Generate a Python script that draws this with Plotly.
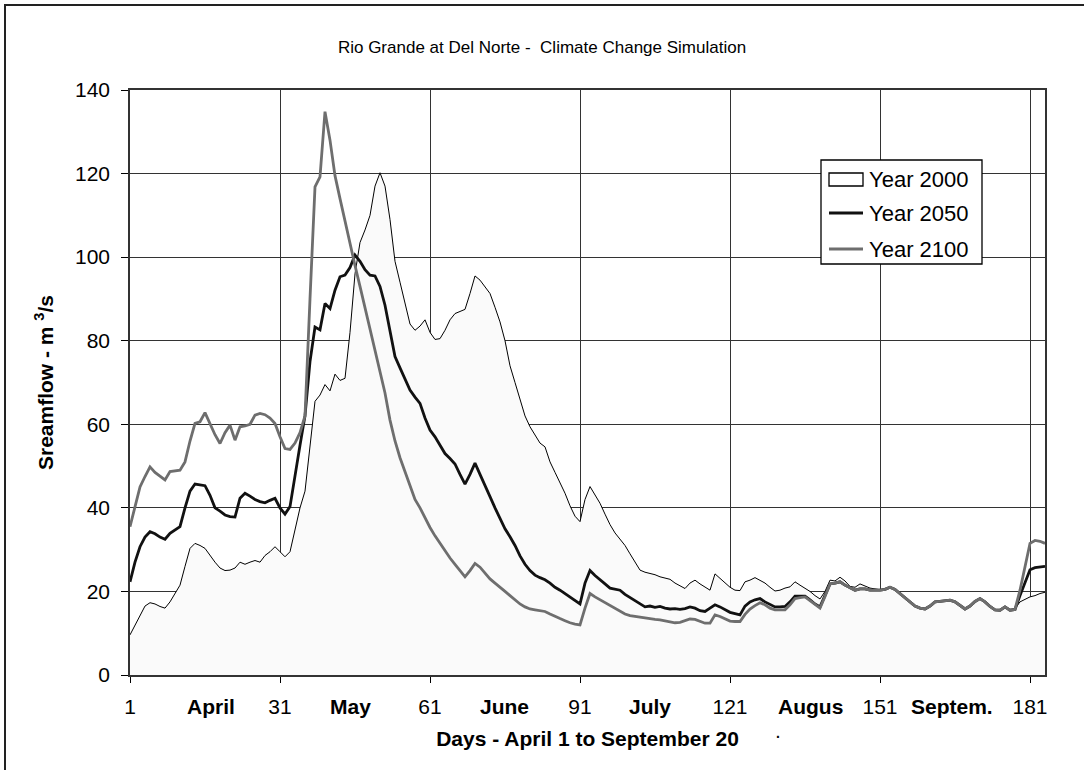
import plotly.graph_objects as go

days = list(range(1, 185))

# daily streamflow, m3/s (day 1 = April 1)
flow_2000 = [
    9.6, 12.0, 14.5, 16.5, 17.3, 17.0, 16.4, 16.0, 17.5, 19.5,
    21.5, 26.0, 30.3, 31.5, 31.0, 30.3, 28.5, 27.0, 25.6, 25.0,
    25.1, 25.6, 27.0, 26.5, 27.0, 27.4, 27.0, 28.6, 29.5, 30.7,
    29.5, 28.3, 29.5, 35.0, 40.0, 44.0, 55.0, 65.5, 67.0, 69.5,
    68.0, 72.0, 70.5, 71.0, 82.0, 96.0, 103.5, 106.5, 110.0, 117.0,
    120.2, 117.0, 109.0, 99.0, 94.0, 89.0, 84.0, 82.5, 83.5, 85.0,
    82.0, 80.3, 80.5, 82.5, 85.0, 86.5, 87.0, 87.5, 91.3, 95.5,
    94.5, 93.0, 91.3, 88.0, 84.5, 80.0, 74.0, 70.0, 66.0, 62.0,
    59.4, 57.5, 55.5, 54.6, 51.0, 48.5, 46.0, 43.5, 40.5, 38.0,
    36.7, 42.0, 45.1, 43.0, 41.1, 38.5, 36.0, 34.0, 32.5, 31.0,
    29.0, 27.0, 25.1, 24.6, 24.3, 24.0, 23.5, 23.2, 22.9, 22.0,
    21.3, 20.7, 22.0, 22.7, 21.8, 21.0, 20.3, 24.2, 23.1, 22.0,
    21.0, 20.3, 20.2, 22.3, 22.7, 23.3, 22.7, 22.0, 21.0, 20.1,
    20.3, 20.8, 21.1, 22.3, 21.5, 20.8, 20.0, 19.0, 18.2, 20.0,
    22.7, 22.5, 23.4, 22.5, 21.2, 21.0, 21.8, 21.3, 20.8, 20.6,
    20.4, 20.6, 21.0, 20.5, 19.5, 18.3, 17.3, 16.5, 16.0, 15.8,
    16.5, 17.5, 17.6, 17.8, 17.9, 17.5, 16.6, 15.8, 16.5, 17.6,
    18.3, 17.5, 16.4, 15.6, 15.5, 16.3, 15.5, 15.9, 17.5, 18.2,
    18.7, 19.0, 19.5, 19.8,
]

flow_2050 = [
    22.3, 27.0, 30.7, 33.0, 34.3, 33.8, 33.0, 32.5, 33.9, 34.8,
    35.5, 40.0, 44.0, 45.7, 45.5, 45.3, 43.0, 40.0, 39.2, 38.3,
    37.9, 37.8, 42.3, 43.5, 42.8, 42.0, 41.5, 41.2, 41.8, 42.3,
    40.0, 38.5, 40.3, 48.0, 55.0, 62.0, 75.0, 83.3, 82.6, 88.9,
    87.7, 92.1, 95.3, 95.7, 97.5, 100.5, 99.0, 97.0, 95.7, 95.5,
    93.0, 88.5, 82.0, 76.2, 73.5, 71.0, 68.2, 66.5, 65.0, 61.5,
    58.6, 57.0, 55.0, 53.0, 51.8, 50.5, 48.0, 45.7, 48.0, 50.7,
    48.0, 45.5, 42.7, 40.0, 37.5, 35.0, 33.1, 31.0, 28.5, 26.5,
    25.0, 23.9, 23.3, 22.8, 22.0, 21.0, 20.3, 19.5, 18.7, 17.8,
    17.0, 22.0, 25.0, 23.8, 22.7, 21.8, 20.8, 20.5, 20.3, 19.3,
    18.5, 17.7, 17.0, 16.3, 16.5, 16.2, 16.4, 16.0, 15.8, 15.9,
    15.7, 15.9, 16.3, 16.0, 15.4, 15.2, 16.0, 16.8, 16.3, 15.6,
    15.0, 14.7, 14.4, 16.5, 17.5, 18.0, 18.3, 17.5, 16.8, 16.3,
    16.3, 16.4, 17.5, 18.9, 18.9, 18.9, 18.0, 17.0, 16.3, 19.0,
    21.8, 22.0, 22.3, 21.5, 20.8, 20.3, 20.6, 20.6, 20.3, 20.3,
    20.3, 20.5, 21.0, 20.5, 19.5, 18.3, 17.3, 16.5, 16.0, 15.8,
    16.5, 17.5, 17.6, 17.8, 17.9, 17.5, 16.6, 15.8, 16.5, 17.6,
    18.3, 17.5, 16.4, 15.6, 15.5, 16.3, 15.5, 15.7, 19.0, 22.0,
    25.2, 25.7, 25.9, 26.0,
]

flow_2100 = [
    35.5, 40.0, 45.0, 47.5, 49.8, 48.5, 47.5, 46.7, 48.7, 48.8,
    49.0, 51.0, 56.0, 60.2, 60.6, 62.8, 60.2, 57.5, 55.4, 58.0,
    59.8, 56.2, 59.4, 59.6, 60.0, 62.2, 62.6, 62.3, 61.5, 60.2,
    57.0, 54.2, 54.0, 55.5, 58.0, 62.0, 90.0, 116.8, 119.2, 134.8,
    128.0, 119.5, 114.0, 108.5, 103.0, 98.0, 93.0, 88.0, 83.0, 78.0,
    72.5, 67.5, 61.0, 56.0, 52.0, 48.5, 45.0, 42.0, 40.0, 37.5,
    35.3, 33.3, 31.5, 29.5, 28.0, 26.5, 25.0, 23.5, 25.0, 26.7,
    25.8, 24.5, 23.0, 22.0, 21.1, 20.0, 19.0, 18.0, 17.0, 16.3,
    15.8, 15.6, 15.4, 15.2, 14.6, 14.0, 13.5, 13.0, 12.5, 12.2,
    12.0, 16.0, 19.5, 18.7, 18.0, 17.2, 16.5, 15.8, 15.2, 14.6,
    14.2, 14.0, 13.8, 13.6, 13.4, 13.3, 13.2, 13.0, 12.8, 12.5,
    12.6, 13.0, 13.4, 13.3, 12.8, 12.4, 12.4, 14.4, 14.0, 13.4,
    12.9, 12.8, 12.8, 14.5, 15.8, 16.6, 17.3, 16.8, 16.0, 15.6,
    15.6, 15.6, 16.8, 18.3, 18.5, 18.7, 17.8, 16.8, 16.0, 18.8,
    21.8, 22.0, 22.3, 21.5, 20.8, 20.3, 20.6, 20.6, 20.3, 20.3,
    20.3, 20.5, 21.0, 20.5, 19.5, 18.3, 17.3, 16.5, 16.0, 15.8,
    16.5, 17.5, 17.6, 17.8, 17.9, 17.5, 16.6, 15.8, 16.5, 17.6,
    18.3, 17.5, 16.4, 15.6, 15.5, 16.3, 15.5, 15.7, 20.3, 26.0,
    31.5, 32.2, 32.0, 31.5,
]

tick_days = [1, 31, 61, 91, 121, 151, 181]
month_names = ["April", "May", "June", "July", "Augus", "Septem."]
month_days = [17.1, 45, 75.8, 104.9, 137, 165.3]
series_names = ["Year 2000", "Year 2050", "Year 2100"]

FONT = "Arial, Liberation Sans, sans-serif"
W, H = 1084, 770
L, R, T, B = 130, 39, 90, 95
PW, PH = W - L - R, H - T - B


def px(x):
    return (x - L) / PW


def py(y):
    return (H - B - y) / PH


fig = go.Figure()
fig.add_trace(go.Scatter(
    x=days, y=flow_2000, name=series_names[0], mode="lines",
    line=dict(color="#000000", width=1),
    fill="tozeroy", fillcolor="#fafafa",
))
fig.add_trace(go.Scatter(
    x=days, y=flow_2050, name=series_names[1], mode="lines",
    line=dict(color="#111111", width=2.8),
))
fig.add_trace(go.Scatter(
    x=days, y=flow_2100, name=series_names[2], mode="lines",
    line=dict(color="#6e6e6e", width=2.8),
))

annotations = [
    dict(text=f"<b>{m}</b>", x=d, y=py(706), xref="x", yref="paper",
         yanchor="middle", showarrow=False, font=dict(size=21, color="#000"))
    for m, d in zip(month_names, month_days)
]
# stray mark under "Augus" in the original
annotations.append(dict(text="<b>.</b>", x=130.5, y=py(733), xref="x", yref="paper",
                        yanchor="middle", showarrow=False, font=dict(size=14, color="#000")))

# legend drawn by hand so the area series gets a box symbol like the original
shapes = [
    dict(type="rect", xref="paper", yref="paper",
         x0=px(5), x1=px(1100), y0=py(780), y1=py(5),
         line=dict(color="#222", width=2), layer="below"),
    dict(type="rect", xref="paper", yref="paper",
         x0=px(821), x1=px(982), y0=py(264), y1=py(160),
         fillcolor="white", line=dict(color="#000", width=1.3), layer="above"),
    dict(type="rect", xref="paper", yref="paper",
         x0=px(829), x1=px(863), y0=py(186), y1=py(173),
         fillcolor="white", line=dict(color="#000", width=1.3), layer="above"),
    dict(type="line", xref="paper", yref="paper",
         x0=px(829), x1=px(863), y0=py(213), y1=py(213),
         line=dict(color="#111", width=2.8), layer="above"),
    dict(type="line", xref="paper", yref="paper",
         x0=px(829), x1=px(863), y0=py(249), y1=py(249),
         line=dict(color="#6e6e6e", width=2.8), layer="above"),
]
for name, yy in zip(series_names, [179, 213, 249]):
    annotations.append(dict(text=name, x=px(867), y=py(yy), xref="paper", yref="paper",
                            xanchor="left", yanchor="middle", showarrow=False,
                            font=dict(size=22, color="#000")))

fig.update_layout(
    width=W, height=H,
    margin=dict(l=L, r=R, t=T, b=B),
    paper_bgcolor="white", plot_bgcolor="white",
    font=dict(family=FONT, size=21, color="#000"),
    title=dict(text="Rio Grande at Del Norte -  Climate Change Simulation",
               x=0.5, xanchor="center", y=1 - 47 / H, yanchor="middle",
               font=dict(size=17, color="#000")),
    showlegend=False,
    annotations=annotations,
    shapes=shapes,
)
fig.update_xaxes(
    range=[1, 184], tickvals=tick_days, ticks="outside", ticklen=6,
    tickcolor="#000", ticklabelstandoff=6,
    showgrid=True, gridcolor="#333", gridwidth=1.3,
    showline=True, linecolor="#333", linewidth=1.5, mirror=True,
    zeroline=False,
    title=dict(text="<b>Days - April 1 to September 20</b>", standoff=14,
               font=dict(size=21)),
    tickfont=dict(size=21),
)
fig.update_yaxes(
    range=[0, 140], dtick=20, ticks="outside", ticklen=7, tickcolor="#000",
    ticklabelstandoff=7,
    showgrid=True, gridcolor="#333", gridwidth=1.3,
    showline=True, linecolor="#333", linewidth=1.5, mirror=True,
    zeroline=False,
    title=dict(text="<b>Sreamflow - m <sup>3</sup>/s</b>", standoff=16,
               font=dict(size=21)),
    tickfont=dict(size=21),
)

fig.write_html("out.html", config={"displayModeBar": False},
               post_script="document.body.style.margin='0';")
